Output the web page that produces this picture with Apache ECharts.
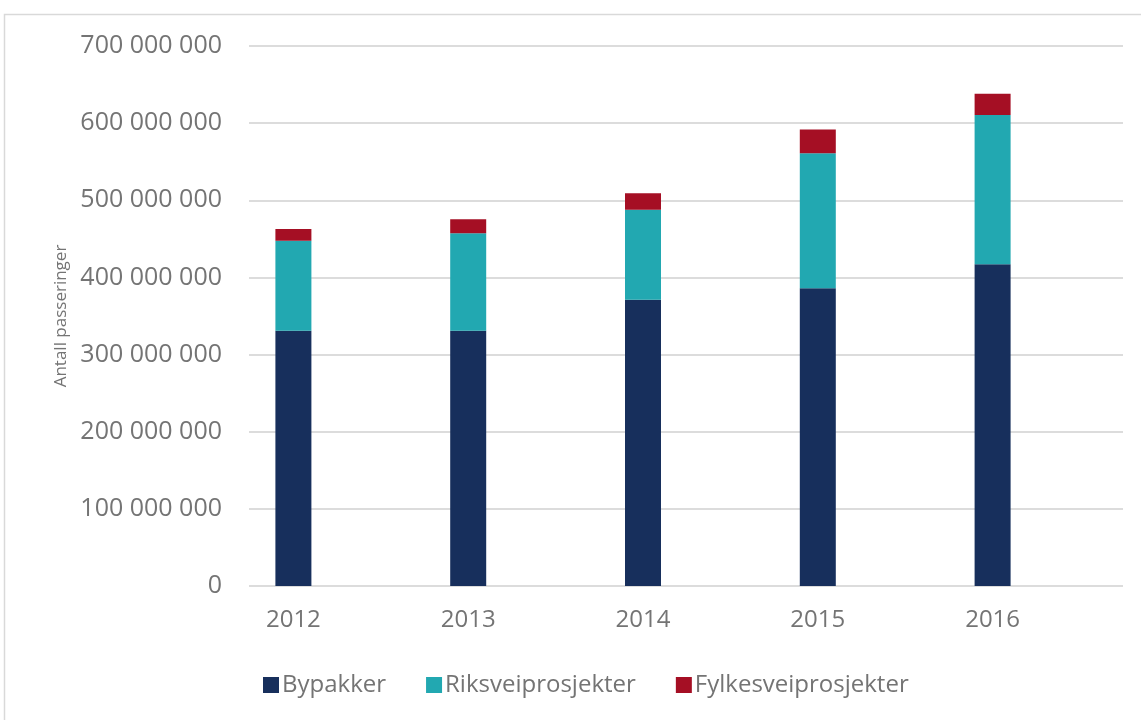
<!DOCTYPE html>
<html>
<head>
<meta charset="utf-8">
<script src="https://cdn.jsdelivr.net/npm/echarts@6/dist/echarts.min.js"></script>
<style>
  html, body { margin: 0; padding: 0; background: #fff; }
  #main { width: 1141px; height: 720px; }
</style>
</head>
<body>
<div id="main"></div>
<script>
// år og verdier (antall passeringer)
const years = ['2012', '2013', '2014', '2015', '2016'];
const bypakker = [331000000, 331000000, 371000000, 386000000, 417000000];
const riksvei = [116600000, 126200000, 116700000, 175000000, 193600000];
const fylkesvei = [15200000, 18200000, 21300000, 30700000, 27600000];
const seriesNames = ['Bypakker', 'Riksveiprosjekter', 'Fylkesveiprosjekter'];

const textColor = '#747474';
const font = 'Open Sans';

function fmt(v) {
  return String(v).replace(/\B(?=(\d{3})+(?!\d))/g, ' ');
}

const option = {
  animation: false,
  textStyle: { fontFamily: font },
  graphic: [{
    type: 'rect',
    shape: { x: 4.5, y: 14.5, width: 1300, height: 900 },
    style: { fill: 'none', stroke: '#d9d9d9', lineWidth: 1.5 },
    silent: true
  }],
  legend: {
    data: seriesNames,
    left: 258,
    top: 668,
    itemWidth: 16,
    itemHeight: 16,
    itemGap: 40,
    icon: 'rect',
    textStyle: { fontSize: 24, color: textColor, fontFamily: font, padding: [0, 0, 0, -2] }
  },
  grid: [
    { left: 249, right: 18, top: 46, bottom: 134 },
    { left: 206, right: 61, top: 46, bottom: 134 }
  ],
  xAxis: [
    { type: 'category', gridIndex: 0, data: years, show: false },
    {
      type: 'category',
      gridIndex: 1,
      data: years,
      axisLine: { show: false },
      axisTick: { show: false },
      axisLabel: { fontSize: 24, color: textColor, margin: 22, fontFamily: font }
    }
  ],
  yAxis: [
    {
      type: 'value',
      gridIndex: 0,
      min: 0,
      max: 700000000,
      interval: 100000000,
      name: 'Antall passeringer',
      nameLocation: 'middle',
      nameGap: 177,
      nameTextStyle: { fontSize: 17, color: textColor, fontFamily: font },
      axisLine: { show: false },
      axisTick: { show: false },
      axisLabel: { fontSize: 25, color: textColor, margin: 27, formatter: fmt, fontFamily: font },
      splitLine: { lineStyle: { color: '#dcdcdc', width: 2 } }
    },
    {
      type: 'value',
      gridIndex: 1,
      min: 0,
      max: 700000000,
      interval: 100000000,
      show: false,
      splitLine: { show: false }
    }
  ],
  series: [
    {
      name: seriesNames[0], type: 'bar', stack: 'total', data: bypakker,
      xAxisIndex: 1, yAxisIndex: 1, barWidth: 36,
      itemStyle: { color: '#172f5c' }
    },
    {
      name: seriesNames[1], type: 'bar', stack: 'total', data: riksvei,
      xAxisIndex: 1, yAxisIndex: 1, barWidth: 36,
      itemStyle: { color: '#22a8b1' }
    },
    {
      name: seriesNames[2], type: 'bar', stack: 'total', data: fylkesvei,
      xAxisIndex: 1, yAxisIndex: 1, barWidth: 36,
      itemStyle: { color: '#a50f24' }
    }
  ]
};

const chart = echarts.init(document.getElementById('main'), null, { renderer: 'canvas' });
chart.setOption(option);
</script>
</body>
</html>
